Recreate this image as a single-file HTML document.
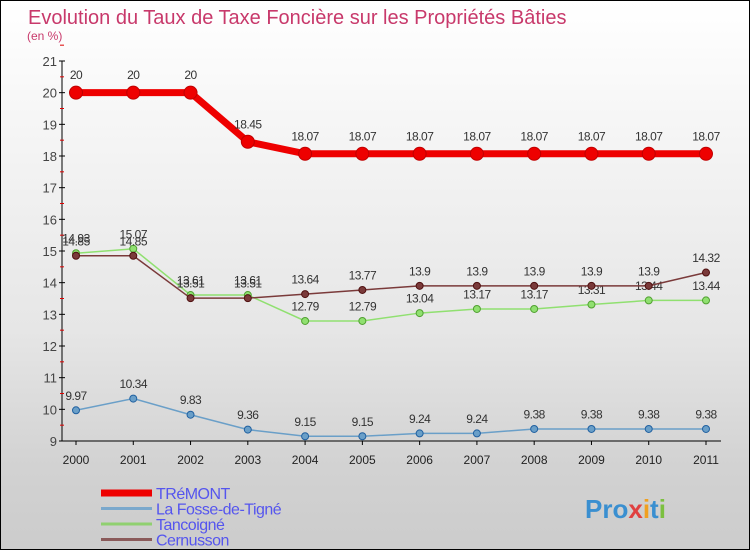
<!DOCTYPE html>
<html><head><meta charset="utf-8"><style>
body{margin:0}
#c{width:750px;height:550px;position:relative;overflow:hidden;font-family:"Liberation Sans",sans-serif;box-sizing:border-box;border:1px solid #000;background:linear-gradient(#ffffff 0%,#e6e6e6 60%,#d2d2d2 85%,#cccccc 100%)}
</style></head><body>
<div id="c">
<svg id="s" width="750" height="550" style="position:absolute;left:0;top:0">
<text x="27" y="23" font-size="20" fill="#c8396b">Evolution du Taux de Taxe Foncière sur les Propriétés Bâties</text>
<text x="26" y="39" font-size="12" fill="#c8396b">(en %)</text>
<text x="584" y="517" font-size="26" font-weight="bold" fill="#3a8fd0">Pro<tspan fill="#e04040">x</tspan><tspan fill="#f0a020">i</tspan>t<tspan fill="#7cc040">i</tspan></text>
</svg>
</div>
<script>
const years=[2000,2001,2002,2003,2004,2005,2006,2007,2008,2009,2010,2011];
const tremont=[20,20,20,18.45,18.07,18.07,18.07,18.07,18.07,18.07,18.07,18.07];
const fosse=[9.97,10.34,9.83,9.36,9.15,9.15,9.24,9.24,9.38,9.38,9.38,9.38];
const tancoigne=[14.93,15.07,13.61,13.61,12.79,12.79,13.04,13.17,13.17,13.31,13.44,13.44];
const cernusson=[14.85,14.85,13.51,13.51,13.64,13.77,13.9,13.9,13.9,13.9,13.9,14.32];
const yTicks=[9,10,11,12,13,14,15,16,17,18,19,21,20];
const NS="http://www.w3.org/2000/svg";
const s=document.getElementById('s');
const x=i=>75+i*(630/11);
const y=v=>440-(v-9)*(380/12);
function mk(t,a,p){const e=document.createElementNS(NS,t);for(const k in a)e.setAttribute(k,a[k]);(p||s).appendChild(e);return e;}
let ax=mk('line',{x1:61,y1:60,x2:61,y2:440,stroke:'#000'});


let bx=mk('line',{x1:61,y1:440,x2:720,y2:440,stroke:'#000'});


yTicks.forEach(v=>{
 mk('line',{x1:58,y1:y(v),x2:64,y2:y(v),stroke:'#000'});
 mk('line',{x1:59,y1:y(v+0.5),x2:63,y2:y(v+0.5),stroke:'#d00'});
 let t=mk('text',{x:56,y:y(v)+5,'font-size':13,fill:'#444','text-anchor':'end'});t.textContent=v;
 
 
});
years.forEach((yr,i)=>{
 mk('line',{x1:x(i),y1:440,x2:x(i),y2:444,stroke:'#000'});
 let t=mk('text',{x:x(i),y:463,'font-size':12,fill:'#222','text-anchor':'middle'});t.textContent=yr;
 
 
});
function series(d,col,w,r,name,dark){
 const g=mk('g',{});
 
 
 mk('polyline',{points:d.map((v,i)=>x(i)+','+y(v)).join(' '),fill:'none',stroke:col,'stroke-width':w},g);
 d.forEach((v,i)=>{
  const c=mk('circle',{cx:x(i),cy:y(v),r:r,fill:col,stroke:dark,'stroke-width':1},g);
  
  
  const t=mk('text',{x:x(i),y:y(v)-(r+7),'font-size':12,fill:'#333','text-anchor':'middle','letter-spacing':'-0.5'},g);
  t.textContent=v;
  
  
 });
}
series(fosse,'#6a9fc8',1.5,3.5,'la-fosse-de-tigne','#2060a0');
series(tancoigne,'#90e070',1.5,3.5,'tancoigne','#50a030');
series(cernusson,'#7a3a3a',1.5,3.5,'cernusson','#501010');
series(tremont,'#ee0000',7,6.5,'tremont','#c00000');
const leg=[['TRéMONT','#ee0000',7],['La Fosse-de-Tigné','#7aa8cc',3],['Tancoigné','#90d070',3],['Cernusson','#8a5a5a',3]];
leg.forEach((l,i)=>{
 const g=mk('g',{});
 
 
 const yy=492+i*15.5;
 mk('line',{x1:100,y1:yy,x2:151,y2:yy,stroke:l[1],'stroke-width':l[2]},g);
 const t=mk('text',{x:155,y:yy+6,'font-size':16,fill:'#5555ee','letter-spacing':'-0.5'},g);t.textContent=l[0];
});
</script>
</body></html>
